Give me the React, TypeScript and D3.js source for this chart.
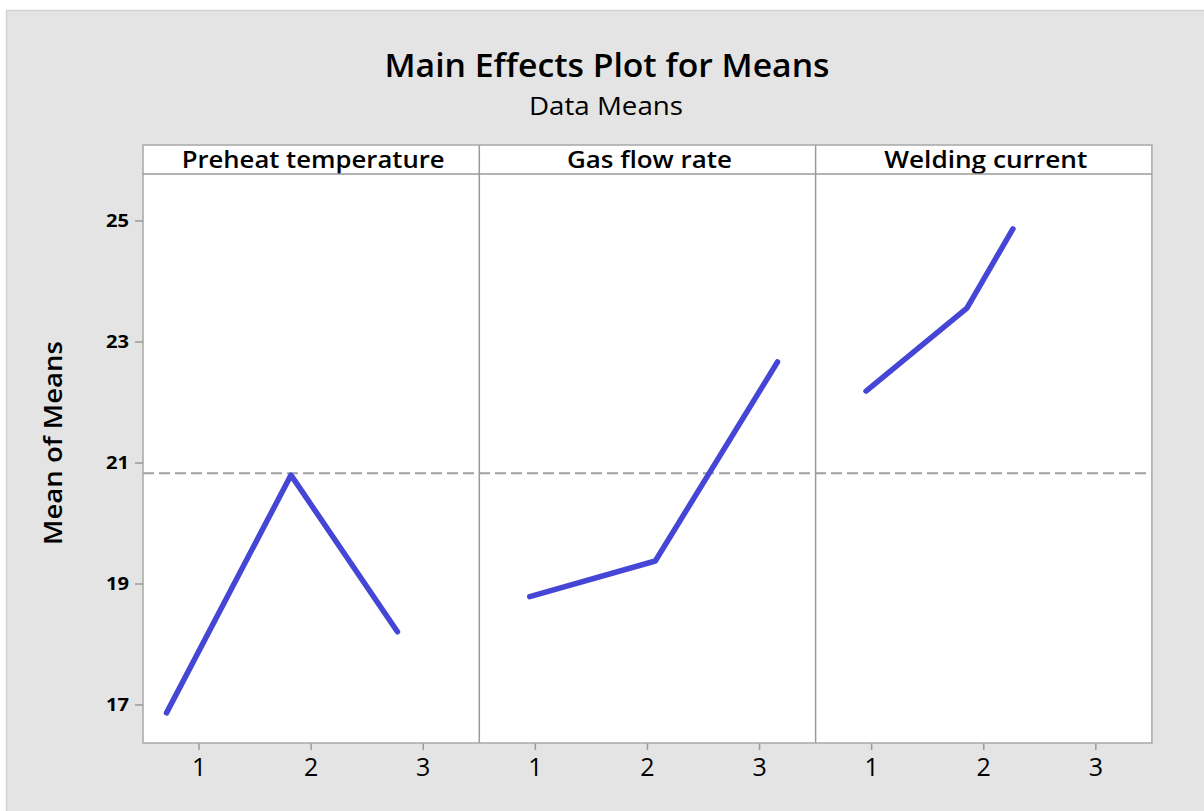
import React from "react";
import * as d3 from "d3";

const factors = ["Preheat temperature", "Gas flow rate", "Welding current"];
const levelTicks = [1, 2, 3];
// level positions as they appear in the picture
const preheatX = [0.71, 1.82, 2.77];
const preheatY = [16.87, 20.8, 18.21];
const gasX = [0.95, 2.07, 3.16];
const gasY = [18.79, 19.38, 22.67];
const currentX = [0.95, 1.85, 2.26];
const currentY = [22.19, 23.56, 24.87];
const yTicks = [17, 19, 21, 23, 25];
const grandMean = 20.83;

const seriesX = [preheatX, gasX, currentX];
const seriesY = [preheatY, gasY, currentY];

const W = 1204;
const H = 811;
const left = 143;
const panelW = 336.3;
const headTop = 145;
const plotTop = 174;
const plotBottom = 743;
const font = "'Open Sans', 'Noto Sans', sans-serif";
const blue = "#4646d6";
const headerWidths = [263, 165, 203];

export default function App() {
  const y = d3.scaleLinear().domain([17, 25]).range([705, 221]);
  const panels = factors.map((name, i) => {
    const x0 = left + i * panelW;
    const x = d3.scaleLinear().domain([0.5, 3.5]).range([x0, x0 + panelW]);
    const pts: [number, number][] = seriesX[i].map((v, j) => [v, seriesY[i][j]]);
    const line = d3
      .line<[number, number]>()
      .x((d) => x(d[0]))
      .y((d) => y(d[1]));
    return { name, x0, x, path: line(pts) as string };
  });
  const right = left + 3 * panelW;

  return (
    <div style={{ position: "absolute", left: 0, top: 0 }}>
      <svg width={W} height={H} style={{ display: "block" }}>
        <rect x={0} y={0} width={W} height={H} fill="#ffffff" />
        <rect x={6.5} y={10.5} width={W} height={H} fill="#e4e4e4" stroke="#d2d2d2" strokeWidth={1.5} />
        <text
          x={607}
          y={77}
          textAnchor="middle"
          fontFamily={font}
          fontSize={33}
          fontWeight={600}
          fill="#000"
          textLength={445}
          lengthAdjust="spacingAndGlyphs"
        >
          Main Effects Plot for Means
        </text>
        <text
          x={606}
          y={115}
          textAnchor="middle"
          fontFamily={font}
          fontSize={26}
          fill="#000"
          textLength={154}
          lengthAdjust="spacingAndGlyphs"
        >
          Data Means
        </text>
        <rect x={left} y={headTop} width={right - left} height={plotBottom - headTop} fill="#ffffff" />
        {/* mean line */}
        <line
          x1={left}
          x2={right}
          y1={y(grandMean)}
          y2={y(grandMean)}
          stroke="#a0a0a0"
          strokeWidth={2}
          strokeDasharray="11,5"
        />
        {panels.map((p, i) => (
          <g key={p.name}>
            <path d={p.path} fill="none" stroke={blue} strokeWidth={5.5} strokeLinejoin="round" strokeLinecap="round" />
            <text
              x={p.x0 + panelW / 2 + 2}
              y={headTop + 23}
              textAnchor="middle"
              fontFamily={font}
              fontSize={23}
              fontWeight={600}
              fill="#000"
              textLength={headerWidths[i]}
              lengthAdjust="spacingAndGlyphs"
            >
              {p.name}
            </text>
            {levelTicks.map((t) => (
              <g key={t}>
                <line x1={p.x(t)} x2={p.x(t)} y1={plotBottom} y2={plotBottom + 7} stroke="#9a9a9a" strokeWidth={1.5} />
                <text x={p.x(t)} y={776} textAnchor="middle" fontFamily={font} fontSize={25} fill="#000">
                  {t}
                </text>
              </g>
            ))}
            {i > 0 && <line x1={p.x0} x2={p.x0} y1={headTop} y2={plotBottom} stroke="#9a9a9a" strokeWidth={1.5} />}
          </g>
        ))}
        <rect
          x={left}
          y={headTop}
          width={right - left}
          height={plotBottom - headTop}
          fill="none"
          stroke="#a8a8a8"
          strokeWidth={1.5}
        />
        <line x1={left} x2={right} y1={plotTop} y2={plotTop} stroke="#9a9a9a" strokeWidth={1.5} />
        {yTicks.map((t) => (
          <g key={t}>
            <line x1={left - 8} x2={left} y1={y(t)} y2={y(t)} stroke="#9a9a9a" strokeWidth={1.5} />
            <text
              x={129}
              y={y(t) + 6}
              textAnchor="end"
              fontFamily={font}
              fontSize={18}
              fontWeight={700}
              fill="#000"
              textLength={23}
              lengthAdjust="spacingAndGlyphs"
            >
              {t}
            </text>
          </g>
        ))}
        <text
          transform={`translate(62,443) rotate(-90)`}
          textAnchor="middle"
          fontFamily={font}
          fontSize={26}
          fontWeight={600}
          fill="#000"
          textLength={204}
          lengthAdjust="spacingAndGlyphs"
        >
          Mean of Means
        </text>
      </svg>
    </div>
  );
}
